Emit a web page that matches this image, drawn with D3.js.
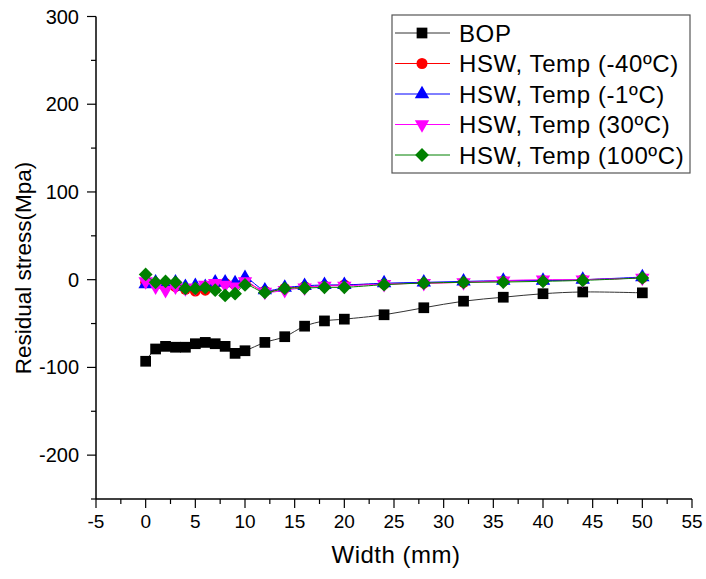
<!DOCTYPE html>
<html>
<head>
<meta charset="utf-8">
<script src="https://cdn.jsdelivr.net/npm/d3@7"></script>
<style>
  html, body { margin: 0; padding: 0; background: #fff; }
  svg { display: block; font-family: "Liberation Sans", Arial, sans-serif; }
</style>
</head>
<body>
<svg id="chart" width="706" height="579"></svg>
<script>
const widths = [0, 1, 2, 3, 4, 5, 6, 7, 8, 9, 10, 12, 14, 16, 18, 20, 24, 28, 32, 36, 40, 44, 50];
const bop     = [-93, -79, -76, -77, -77, -73, -71.5, -73, -76, -84, -81, -71.5, -65, -53, -47, -45, -40, -32, -24.5, -20, -16, -14, -15];
const hswM40  = [-3, -5, -7, -8, -11, -13, -12, -5, -4, -6, -3, -13, -10, -8, -7, -6, -5, -4, -3, -1.5, -1, 0, 2];
const hswM1   = [-5, -3, -4, -3, -8, -7, -8, -3, -3, -4, 2, -12, -9, -7, -6, -6, -4, -3, -2, -1, -1, 0, 3];
const hsw30   = [-2, -8, -12, -8, -10, -9, -6, -4, -6, -8, -2, -14, -12, -9, -7, -7, -5, -4, -3, -1, 0, 0, 2];
const hsw100  = [6, -3, -2, -3, -10, -10, -9, -12, -18, -16, -6, -14.5, -10, -9.5, -8.7, -8.7, -5.7, -3.8, -3, -2.7, -1.9, -0.8, 2];
const seriesNames = ["BOP", "HSW, Temp (-40ºC)", "HSW, Temp (-1ºC)", "HSW, Temp (30ºC)", "HSW, Temp (100ºC)"];
const xTicks = [-5, 0, 5, 10, 15, 20, 25, 30, 35, 40, 45, 50, 55];
const yTicks = [-200, -100, 0, 100, 200, 300];

const seriesValues = [bop, hswM40, hswM1, hsw30, hsw100];
const styles = [
  { line: "#333333", fill: "#000000", shape: "square" },
  { line: "#ff0000", fill: "#ff0000", shape: "circle" },
  { line: "#0000ff", fill: "#0000ff", shape: "triangle" },
  { line: "#ff00ff", fill: "#ff00ff", shape: "triangleDown" },
  { line: "#008000", fill: "#008000", shape: "diamond" }
];

const svg = d3.select("#chart");
const x = d3.scaleLinear().domain([-5, 55]).range([96, 692]);
const y = d3.scaleLinear().domain([-250, 300]).range([499, 16.5]);

function symbolPath(shape) {
  if (shape === "square") return d3.symbol().type(d3.symbolSquare).size(115)();
  if (shape === "circle") return d3.symbol().type(d3.symbolCircle).size(95)();
  if (shape === "triangle") return d3.symbol().type(d3.symbolTriangle).size(90)();
  if (shape === "triangleDown") return d3.symbol().type(d3.symbolTriangle).size(90)();
  if (shape === "diamond") return d3.symbol().type(d3.symbolSquare).size(95)();
}
function symbolRot(shape) {
  if (shape === "triangleDown") return 180;
  if (shape === "diamond") return 45;
  return 0;
}

// Axes
const xAxis = svg.append("g").attr("transform", `translate(0,${y(-250)})`);
xAxis.append("line").attr("x1", x(-5)).attr("x2", x(55)).attr("y1", 0).attr("y2", 0)
  .attr("stroke", "#000").attr("stroke-width", 1.5);
const xMinor = d3.range(-2.5, 55, 5);
xAxis.selectAll(".xmin").data(xMinor).join("line")
  .attr("x1", d => x(d)).attr("x2", d => x(d)).attr("y1", 0).attr("y2", 5)
  .attr("stroke", "#000").attr("stroke-width", 1.2);
xAxis.selectAll(".xmaj").data(xTicks).join("line")
  .attr("x1", d => x(d)).attr("x2", d => x(d)).attr("y1", 0).attr("y2", 9)
  .attr("stroke", "#000").attr("stroke-width", 1.2);
xAxis.selectAll(".xlab").data(xTicks).join("text")
  .attr("x", d => x(d)).attr("y", 29).attr("text-anchor", "middle")
  .attr("font-size", 19).attr("fill", "#000").text(d => d);

const yAxis = svg.append("g").attr("transform", `translate(${x(-5)},0)`);
yAxis.append("line").attr("x1", 0).attr("x2", 0).attr("y1", y(300)).attr("y2", y(-250))
  .attr("stroke", "#000").attr("stroke-width", 1.5);
const yMinor = d3.range(-250, 301, 50).filter(v => v % 100 !== 0);
yAxis.selectAll(".ymin").data(yMinor).join("line")
  .attr("x1", -5).attr("x2", 0).attr("y1", d => y(d)).attr("y2", d => y(d))
  .attr("stroke", "#000").attr("stroke-width", 1.2);
yAxis.selectAll(".ymaj").data(yTicks).join("line")
  .attr("x1", -9).attr("x2", 0).attr("y1", d => y(d)).attr("y2", d => y(d))
  .attr("stroke", "#000").attr("stroke-width", 1.2);
yAxis.selectAll(".ylab").data(yTicks).join("text")
  .attr("x", -17).attr("y", d => y(d)).attr("dy", "0.35em").attr("text-anchor", "end")
  .attr("font-size", 20).attr("fill", "#000").text(d => d);

svg.append("text").attr("x", 396).attr("y", 563).attr("text-anchor", "middle")
  .attr("font-size", 24).attr("letter-spacing", 0.5).attr("fill", "#000").text("Width (mm)");
svg.append("text").attr("transform", `translate(31,${268}) rotate(-90)`).attr("text-anchor", "middle")
  .attr("font-size", 22.5).attr("fill", "#000").text("Residual stress(Mpa)");

// Series
const lineGen = d3.line().x(d => x(d[0])).y(d => y(d[1])).curve(d3.curveCatmullRom.alpha(0.5));
seriesValues.forEach((vals, i) => {
  const pts = widths.map((w, j) => [w, vals[j]]);
  const st = styles[i];
  const g = svg.append("g");
  g.append("path").datum(pts).attr("d", lineGen).attr("fill", "none")
    .attr("stroke", st.line).attr("stroke-width", 1);
  g.selectAll("path.m").data(pts).join("path").attr("class", "m")
    .attr("d", symbolPath(st.shape))
    .attr("transform", d => `translate(${x(d[0])},${y(d[1])}) rotate(${symbolRot(st.shape)})`)
    .attr("fill", st.fill);
});

// Legend
const leg = svg.append("g");
leg.append("rect").attr("x", 392).attr("y", 15).attr("width", 298).attr("height", 158)
  .attr("fill", "#fff").attr("stroke", "#555").attr("stroke-width", 1.2);
const rowY = [33, 63.5, 94, 124.5, 155];
seriesNames.forEach((name, i) => {
  const st = styles[i];
  leg.append("line").attr("x1", 395).attr("x2", 450).attr("y1", rowY[i]).attr("y2", rowY[i])
    .attr("stroke", st.line).attr("stroke-width", 1);
  leg.append("path").attr("d", symbolPath(st.shape))
    .attr("transform", `translate(422,${rowY[i]}) rotate(${symbolRot(st.shape)})`)
    .attr("fill", st.fill);
  leg.append("text").attr("x", 459).attr("y", rowY[i]).attr("dy", "0.36em")
    .attr("font-size", 24).attr("letter-spacing", 0.6).attr("fill", "#000").text(name);
});
</script>
</body>
</html>
